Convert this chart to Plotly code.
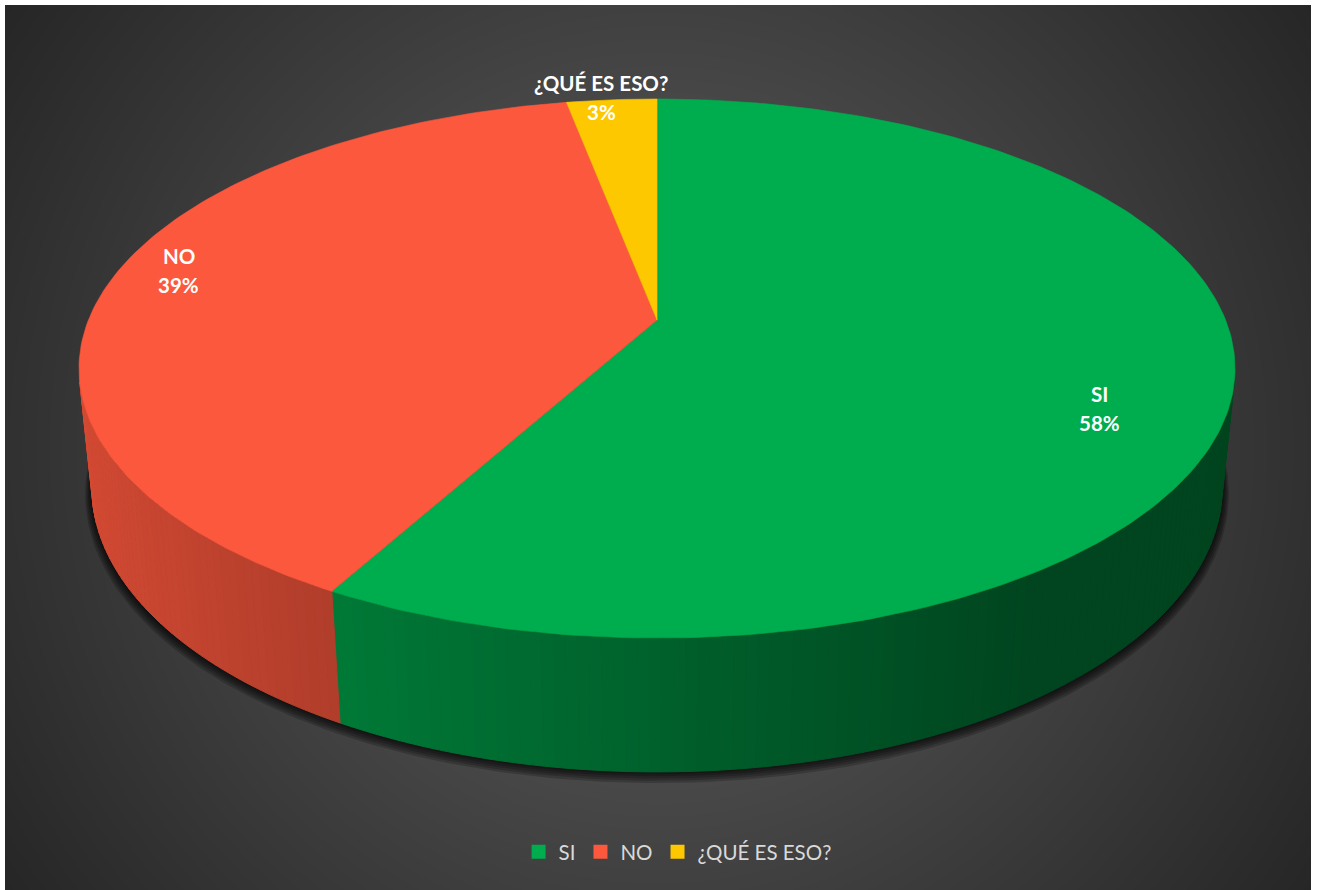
import numpy as np
import plotly.graph_objects as go

# ---- data ----
categories = ["SI", "NO", "¿QUÉ ES ESO?"]
values = [58, 39, 3]

# ---- styles ----
slice_colors = ["#00AD4E", "#FC583D", "#FDC800"]
label_font = dict(family="Lato, 'Open Sans', sans-serif", size=20.5, color="#FFFFFF", weight="bold")
legend_font = dict(family="Lato, 'Open Sans', sans-serif", size=20.5, color="#D9D9D9")

# label anchor on the disc: (radius, height) per slice
label_place = [(0.78, -0.07), (0.87, 0.03), (1.30, -0.12)]
LINE_GAP = 14.5

# ---- view of the 3-D disc (pixel space of the chart area) ----
W_LEFT, W_RIGHT, W_TOP, W_BOTTOM = 5, 1311, 5, 890
CX, CY = 657, 320           # where the disc centre lands
ELEV = np.radians(27.3)     # camera elevation
DIST = 4.937                # camera distance (disc radius = 1)
FOCAL = 2807
THICK = 0.237               # disc thickness
SE, CE = np.sin(ELEV), np.cos(ELEV)


def project(theta, r=1.0, z=0.0):
    """theta measured clockwise from the far side of the disc."""
    X = r * np.sin(theta)
    Y = r * np.cos(theta)
    depth = Y * CE - z * SE + DIST
    sx = CX + FOCAL * X / depth
    sy = CY - FOCAL * (Y * SE + z * CE) / depth
    return sx, sy


def shade(hex_color, k):
    h = hex_color.lstrip("#")
    rgb = [int(h[i:i + 2], 16) for i in (0, 2, 4)]
    return "rgb({},{},{})".format(*[int(round(c * k)) for c in rgb])


fig = go.Figure()

# ---- radial background ----
gx = np.linspace(W_LEFT, W_RIGHT, 140)
gy = np.linspace(W_TOP, W_BOTTOM, 100)
GX, GY = np.meshgrid(gx, gy)
rad = np.hypot(GX - (W_LEFT + W_RIGHT) / 2, GY - (W_TOP + W_BOTTOM) / 2)
grey = np.clip(64 + (442 - rad) * 0.075, 36, 84)
fig.add_trace(go.Heatmap(
    x=gx, y=gy, z=grey, zmin=0, zmax=255, zsmooth="best",
    colorscale=[[0, "rgb(0,0,0)"], [1, "rgb(255,255,255)"]],
    showscale=False, hoverinfo="skip",
))

# ---- slice angles ----
total = float(sum(values))
fractions = [v / total for v in values]
starts = np.cumsum([0] + fractions[:-1]) * 2 * np.pi
ends = starts + np.array(fractions) * 2 * np.pi

# ---- soft shadow under the disc ----
t_full = np.linspace(0, 2 * np.pi, 361)
for k in range(1, 6):
    sx, sy = project(t_full, r=1 + 0.0025 * k, z=-THICK - 0.0022 * k)
    fig.add_trace(go.Scatter(
        x=sx, y=sy, mode="lines", fill="toself",
        fillcolor="rgba(0,0,0,0.2)", line=dict(width=0),
        hoverinfo="skip", showlegend=False,
    ))

# ---- side wall (only the part facing the camera) ----
vis_lim = np.arccos(-1.0 / (DIST * CE))
vis_lo, vis_hi = vis_lim, 2 * np.pi - vis_lim
for i, col in enumerate(slice_colors):
    a0, a1 = max(starts[i], vis_lo), min(ends[i], vis_hi)
    if a1 <= a0:
        continue
    n = max(2, int(np.degrees(a1 - a0) / 1.0) + 1)
    edges = np.linspace(a0, a1, n)
    for t0, t1 in zip(edges[:-1], edges[1:]):
        tm = 0.5 * (t0 + t1)
        k = np.clip(0.56 - 0.29 * np.sin(tm), 0.40, 0.9)
        c = shade(col, k)
        tt = np.linspace(t0, t1, 3)
        xt, yt = project(tt, z=0.0)
        xb, yb = project(tt[::-1], z=-THICK)
        fig.add_trace(go.Scatter(
            x=np.concatenate([xt, xb, xt[:1]]),
            y=np.concatenate([yt, yb, yt[:1]]),
            mode="lines", fill="toself", fillcolor=c,
            line=dict(width=1, color=c),
            hoverinfo="skip", showlegend=False,
        ))

# ---- top faces ----
cx0, cy0 = project(0.0, r=0.0)
for i, col in enumerate(slice_colors):
    tt = np.linspace(starts[i], ends[i], max(3, int(np.degrees(ends[i] - starts[i])) + 2))
    ax, ay = project(tt)
    fig.add_trace(go.Scatter(
        x=np.concatenate([[cx0], ax, [cx0]]),
        y=np.concatenate([[cy0], ay, [cy0]]),
        mode="lines", fill="toself", fillcolor=col,
        line=dict(width=0.6, color=col),
        name=categories[i], hoverinfo="skip", showlegend=False,
    ))

# ---- legend entries ----
for name, col in zip(categories, slice_colors):
    fig.add_trace(go.Scatter(
        x=[None], y=[None], mode="markers", name=name,
        marker=dict(symbol="square", size=14, color=col),
    ))

# ---- data labels ----
for i, name in enumerate(categories):
    mid = 0.5 * (starts[i] + ends[i])
    r_lab, z_lab = label_place[i]
    lx, ly = project(mid, r=r_lab, z=z_lab)
    pct = f"{values[i] / total * 100:.0f}%"
    for txt, shift in ((name, LINE_GAP), (pct, -LINE_GAP)):
        fig.add_annotation(
            x=float(lx), y=float(ly), xref="x", yref="y", text=txt,
            showarrow=False, yshift=shift, font=label_font,
            xanchor="center", yanchor="middle",
        )

fig.update_layout(
    width=1320, height=890,
    margin=dict(l=W_LEFT, r=1320 - W_RIGHT, t=W_TOP, b=890 - W_BOTTOM),
    paper_bgcolor="#FFFFFF", plot_bgcolor="#333333",
    xaxis=dict(range=[W_LEFT, W_RIGHT], visible=False, fixedrange=True),
    yaxis=dict(range=[W_BOTTOM, W_TOP], visible=False, fixedrange=True),
    showlegend=True,
    legend=dict(
        orientation="h", x=0.515, y=0.043, xanchor="center", yanchor="middle",
        font=legend_font, bgcolor="rgba(0,0,0,0)", itemclick=False,
        itemdoubleclick=False,
    ),
)

fig.write_html("out.html")
